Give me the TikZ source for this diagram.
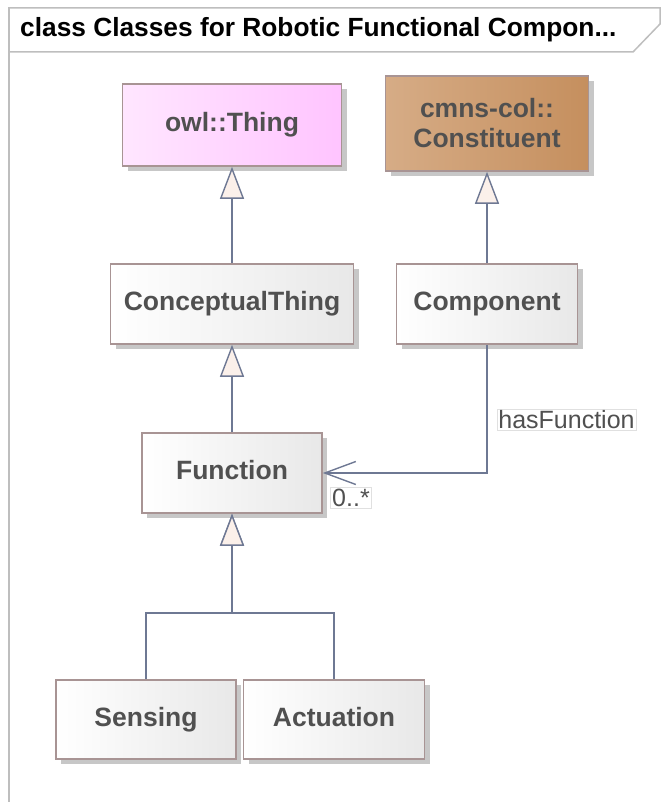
\documentclass[tikz,border=0pt]{standalone}
\usepackage{fontspec}
\setmainfont{Liberation Sans}
\usetikzlibrary{arrows.meta,shadows}
\definecolor{txt}{HTML}{505050}
\definecolor{bord}{HTML}{A89494}
\definecolor{conn}{HTML}{6E7893}
\definecolor{trifill}{HTML}{FBF0EA}
\definecolor{framec}{HTML}{BEBEBE}
\definecolor{pinkA}{HTML}{FFE6FF}
\definecolor{pinkB}{HTML}{FFC4FF}
\definecolor{brownA}{HTML}{D6AC86}
\definecolor{brownB}{HTML}{C58F5E}
\tikzset{
  cls/.style={draw=bord, line width=1.6pt, left color=white, right color=black!9,
    text=txt, font=\bfseries\fontsize{26.5}{30}\selectfont, align=center, inner sep=0pt,
    drop shadow={shadow xshift=5pt, shadow yshift=-5pt, fill=black!22, opacity=1}},
  oneline/.style={text height=19pt, text depth=6pt},
  gen/.style={draw=conn, line width=1.8pt, -{Triangle[length=32pt,width=24pt,fill=trifill,line width=1.4pt]}},
  assoc/.style={draw=conn, line width=1.8pt, -{Straight Barb[length=31pt,width=23pt,line width=1.4pt]}},
  lbl/.style={draw=black!12, line width=0.6pt, fill=white, text=txt, inner sep=1.5pt,
    font=\fontsize{25}{28}\selectfont}
}
\begin{document}
\begin{tikzpicture}[x=1pt,y=-1pt]
\useasboundingbox (0,0) rectangle (665,802);
% frame
\draw[framec, line width=1.5pt] (9,802) -- (9,8) -- (660,8);
\draw[framec, line width=1.5pt, fill=white] (9,8) -- (660,8) -- (660,24) -- (633,52) -- (9,52) -- cycle;
\node[anchor=west, font=\bfseries\fontsize{26.3}{30}\selectfont, inner sep=0pt] (title) at (20,30) {class Classes for Robotic Functional Compon...};
% classes
\node[cls, oneline, minimum width=219pt, minimum height=82pt, left color=pinkA, right color=pinkB] (owl) at (232,125) {owl::Thing};
\node[cls, minimum width=203pt, minimum height=95pt, left color=brownA, right color=brownB] (cons) at (487,123.5) {cmns-col::\\Constituent};
\node[cls, oneline, minimum width=243pt, minimum height=80pt] (ct) at (232,304) {ConceptualThing};
\node[cls, oneline, minimum width=181pt, minimum height=80pt] (comp) at (487,304) {Component};
\node[cls, oneline, minimum width=180pt, minimum height=80pt] (func) at (232,473) {Function};
\node[cls, oneline, minimum width=180pt, minimum height=79pt] (sens) at (146,719.5) {Sensing};
\node[cls, oneline, minimum width=181pt, minimum height=79pt] (act) at (334,719.5) {Actuation};
% generalizations
\draw[gen] (ct.north) -- (owl.south);
\draw[gen] (comp.north) -- (cons.south);
\draw[gen] (func.north) -- (ct.south);
\draw[gen] (sens.north) -- ++(0,-66) -| (func.south);
\draw[gen] (act.north) -- ++(0,-66) -| (func.south);
% association
\draw[assoc] (comp.south) |- (func.east);
\node[lbl] (hf) at (566.5,420) {hasFunction};
\node[lbl] (mult) at (351,498) {0..*};
\end{tikzpicture}
\end{document}
